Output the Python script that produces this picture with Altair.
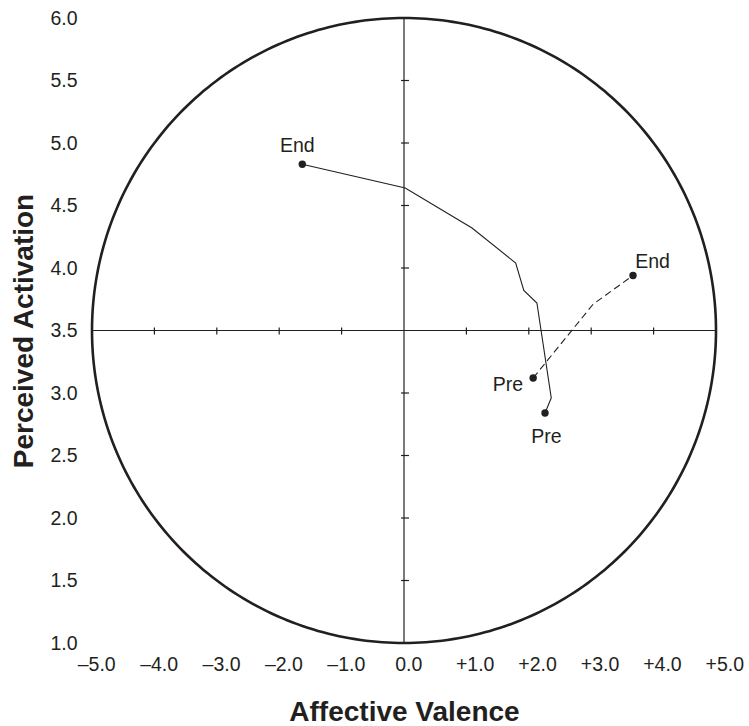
import altair as alt
import pandas as pd
import numpy as np

# ---- data ----
solid_x = [2.26, 2.36, 2.13, 1.92, 1.79, 1.09, 0.02, -1.63]
solid_y = [2.84, 2.96, 3.72, 3.82, 4.04, 4.32, 4.64, 4.83]
dashed_x = [2.07, 3.03, 3.67]
dashed_y = [3.12, 3.71, 3.94]

x_ticks = [-4, -3, -2, -1, 1, 2, 3, 4]
y_ticks = [1.5, 2.0, 2.5, 3.0, 4.0, 4.5, 5.0, 5.5]
x_label_values = [-5, -4, -3, -2, -1, 0, 1, 2, 3, 4, 5]
y_label_values = [1.0, 1.5, 2.0, 2.5, 3.0, 3.5, 4.0, 4.5, 5.0, 5.5, 6.0]

INK = "#231f20"
FONT = "Liberation Sans"

xs = alt.Scale(domain=[-5, 5], nice=False, zero=False)
ys = alt.Scale(domain=[1, 6], nice=False, zero=False)

# boundary circle (valence radius 5, activation radius 2.5 around 0 / 3.5)
t = np.linspace(0, 2 * np.pi, 361)
circle = pd.DataFrame({"x": 5 * np.cos(t), "y": 3.5 + 2.5 * np.sin(t), "o": np.arange(361)})

solid = pd.DataFrame({"x": solid_x, "y": solid_y, "o": range(len(solid_x))})
dashed = pd.DataFrame({"x": dashed_x, "y": dashed_y, "o": range(len(dashed_x))})

x_axis = alt.Axis(
    values=x_label_values, grid=False, domain=False, ticks=False,
    labelExpr="datum.value > 0 ? '+' + format(datum.value, '.1f') : (datum.value < 0 ? '\u2013' + format(-datum.value, '.1f') : '0.0')",
    labelFont=FONT, labelFontSize=19.5, labelColor=INK, labelFlush=False, labelOverlap=False,
    labelBaseline="middle", labelPadding=21,
    labelOffset={"condition": {"test": "datum.value > 0", "value": 8.3}, "value": 4.2},
    title="Affective Valence", titleFont=FONT, titleFontSize=28, titleFontWeight="bold",
    titleColor=INK, titleBaseline="alphabetic", titleX=312, titleY=77, titleAnchor="middle",
)
y_axis = alt.Axis(
    values=y_label_values, grid=False, domain=False, ticks=False, format=".1f",
    labelFont=FONT, labelFontSize=19.5, labelColor=INK, labelFlush=False, labelOverlap=False,
    labelPadding=15,
    title="Perceived Activation", titleFont=FONT, titleFontSize=28, titleFontWeight="bold",
    titleColor=INK, titleBaseline="alphabetic", titleAngle=-90, titleX=-60, titleY=312.5,
    titleAnchor="middle",
)

base_axes = alt.Chart(pd.DataFrame({"x": [0.0], "y": [3.5]})).mark_point(opacity=0).encode(
    x=alt.X("x:Q", scale=xs, axis=x_axis),
    y=alt.Y("y:Q", scale=ys, axis=y_axis),
)

circ = alt.Chart(circle).mark_line(color=INK, strokeWidth=2.6).encode(
    x=alt.X("x:Q", scale=xs), y=alt.Y("y:Q", scale=ys), order="o:Q"
)

hline = alt.Chart(pd.DataFrame({"x": [-5.0], "x2": [5.0], "y": [3.5]})).mark_rule(
    color=INK, strokeWidth=1.2).encode(x=alt.X("x:Q", scale=xs), x2="x2:Q", y=alt.Y("y:Q", scale=ys))
vline = alt.Chart(pd.DataFrame({"x": [0.0], "y": [1.0], "y2": [6.0]})).mark_rule(
    color=INK, strokeWidth=1.2).encode(x=alt.X("x:Q", scale=xs), y=alt.Y("y:Q", scale=ys), y2="y2:Q")

xt = alt.Chart(pd.DataFrame({"x": x_ticks, "y": [3.5] * len(x_ticks)})).mark_rule(
    color=INK, strokeWidth=1.2, yOffset=-3, y2Offset=4).encode(
    x=alt.X("x:Q", scale=xs), y=alt.Y("y:Q", scale=ys), y2="y:Q")
yt = alt.Chart(pd.DataFrame({"y": y_ticks, "x": [0.0] * len(y_ticks)})).mark_rule(
    color=INK, strokeWidth=1.2, xOffset=-3, x2Offset=5).encode(
    y=alt.Y("y:Q", scale=ys), x=alt.X("x:Q", scale=xs), x2="x:Q")

solid_line = alt.Chart(solid).mark_line(color=INK, strokeWidth=1.1).encode(
    x=alt.X("x:Q", scale=xs), y=alt.Y("y:Q", scale=ys), order="o:Q")
dashed_line = alt.Chart(dashed).mark_line(color=INK, strokeWidth=1.1, strokeDash=[7, 4]).encode(
    x=alt.X("x:Q", scale=xs), y=alt.Y("y:Q", scale=ys), order="o:Q")

ends = pd.DataFrame({
    "x": [solid_x[0], solid_x[-1], dashed_x[0], dashed_x[-1]],
    "y": [solid_y[0], solid_y[-1], dashed_y[0], dashed_y[-1]],
})
dots = alt.Chart(ends).mark_circle(color=INK, size=55, opacity=1).encode(
    x=alt.X("x:Q", scale=xs), y=alt.Y("y:Q", scale=ys))


def label(text, x, y, dx, dy, align="center"):
    return alt.Chart(pd.DataFrame({"x": [x], "y": [y], "t": [text]})).mark_text(
        font=FONT, fontSize=19.5, color=INK, align=align, baseline="middle", dx=dx, dy=dy
    ).encode(x=alt.X("x:Q", scale=xs), y=alt.Y("y:Q", scale=ys), text="t:N")


labels = [
    label("End", solid_x[-1], solid_y[-1], -5, -18),
    label("Pre", solid_x[0], solid_y[0], 1.5, 24),
    label("Pre", dashed_x[0], dashed_y[0], -10, 6.5, align="right"),
    label("End", dashed_x[-1], dashed_y[-1], 19.5, -14),
]

chart = alt.layer(base_axes, hline, vline, xt, yt, circ, solid_line, dashed_line, dots, *labels).properties(
    width=624, height=625,
    background="white",
    autosize=alt.AutoSizeParams(type="none"),
    padding={"left": 92, "top": 18, "right": 33, "bottom": 83},
).configure_view(stroke=None, strokeWidth=0)

chart.save("out.html", embed_options={"renderer": "svg", "actions": False})
